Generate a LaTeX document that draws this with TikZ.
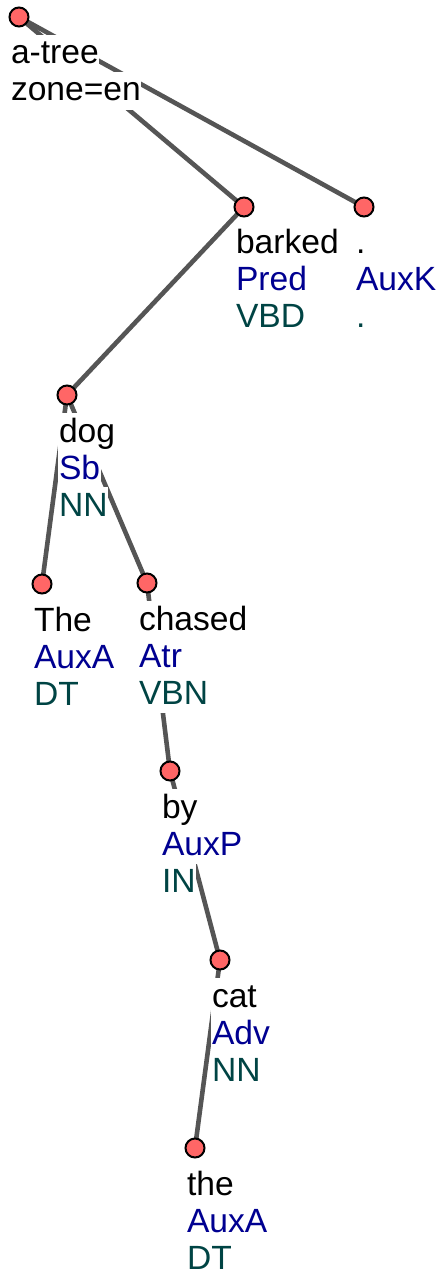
\documentclass[tikz,border=0pt]{standalone}
\usepackage{fontspec}
\setmainfont{Liberation Sans}
\usetikzlibrary{backgrounds}
\definecolor{nodered}{RGB}{255,102,102}
\definecolor{edgegray}{RGB}{85,85,85}
\definecolor{afunblue}{RGB}{0,0,145}
\definecolor{tagteal}{RGB}{0,68,68}
\tikzset{
    % Tree node styles
    tnode/.style={circle, draw=black, fill=nodered, line width=1pt,
                  minimum size=9.5pt, inner sep=0pt},
    dep/.style={draw=edgegray, line width=2.3pt},
    % Label line styles
    lbl/.style={anchor=base west, fill=white, inner sep=0.3pt,
                text height=14pt, text depth=4pt,
                font=\fontsize{16.8}{18}\selectfont},
    wordline/.style={lbl, text=black},
    afunline/.style={lbl, text=afunblue},
    tagline/.style={lbl, text=tagteal},
}

\begin{document}
\begin{tikzpicture}[x=0.5pt, y=-0.5pt]
    \useasboundingbox (0,0) rectangle (441,1278);

    % Tree nodes
    \node[tnode] (root) at (19, 17) {};
    \node[tnode] (barked) at (244, 207) {};
    \node[tnode] (period) at (364, 207) {};
    \node[tnode] (dog) at (67, 395) {};
    \node[tnode] (The) at (42, 584) {};
    \node[tnode] (chased) at (147, 583) {};
    \node[tnode] (by) at (170, 771) {};
    \node[tnode] (cat) at (220, 960) {};
    \node[tnode] (the) at (195, 1148) {};

    % Root label
    \node[wordline] (root-w) at ([shift={(-9,47)}]root.center) {a-tree};
    \node[wordline] (root-z) at ([shift={(-9,84)}]root.center) {zone=en};

    % Labels: word, afun, tag
    \foreach \nm/\wrd/\afn/\tg in {barked/barked/Pred/VBD, period/./AuxK/.,
        dog/dog/Sb/NN, The/The/AuxA/DT, chased/chased/Atr/VBN,
        by/by/AuxP/IN, cat/cat/Adv/NN, the/the/AuxA/DT} {
        \node[wordline] (\nm-w) at ([shift={(-9,47)}]\nm.center) {\wrd};
        \node[afunline] (\nm-a) at ([shift={(-9,84)}]\nm.center) {\afn};
        \node[tagline] (\nm-t) at ([shift={(-9,121)}]\nm.center) {\tg};
    }

    % Edges
    \begin{scope}[on background layer]
        \draw[dep] (root.center) -- (barked.center);
        \draw[dep] (root.center) -- (period.center);
        \draw[dep] (barked.center) -- (dog.center);
        \draw[dep] (dog.center) -- (The.center);
        \draw[dep] (dog.center) -- (chased.center);
        \draw[dep] (chased.center) -- (by.center);
        \draw[dep] (by.center) -- (cat.center);
        \draw[dep] (cat.center) -- (the.center);
    \end{scope}
\end{tikzpicture}
\end{document}
